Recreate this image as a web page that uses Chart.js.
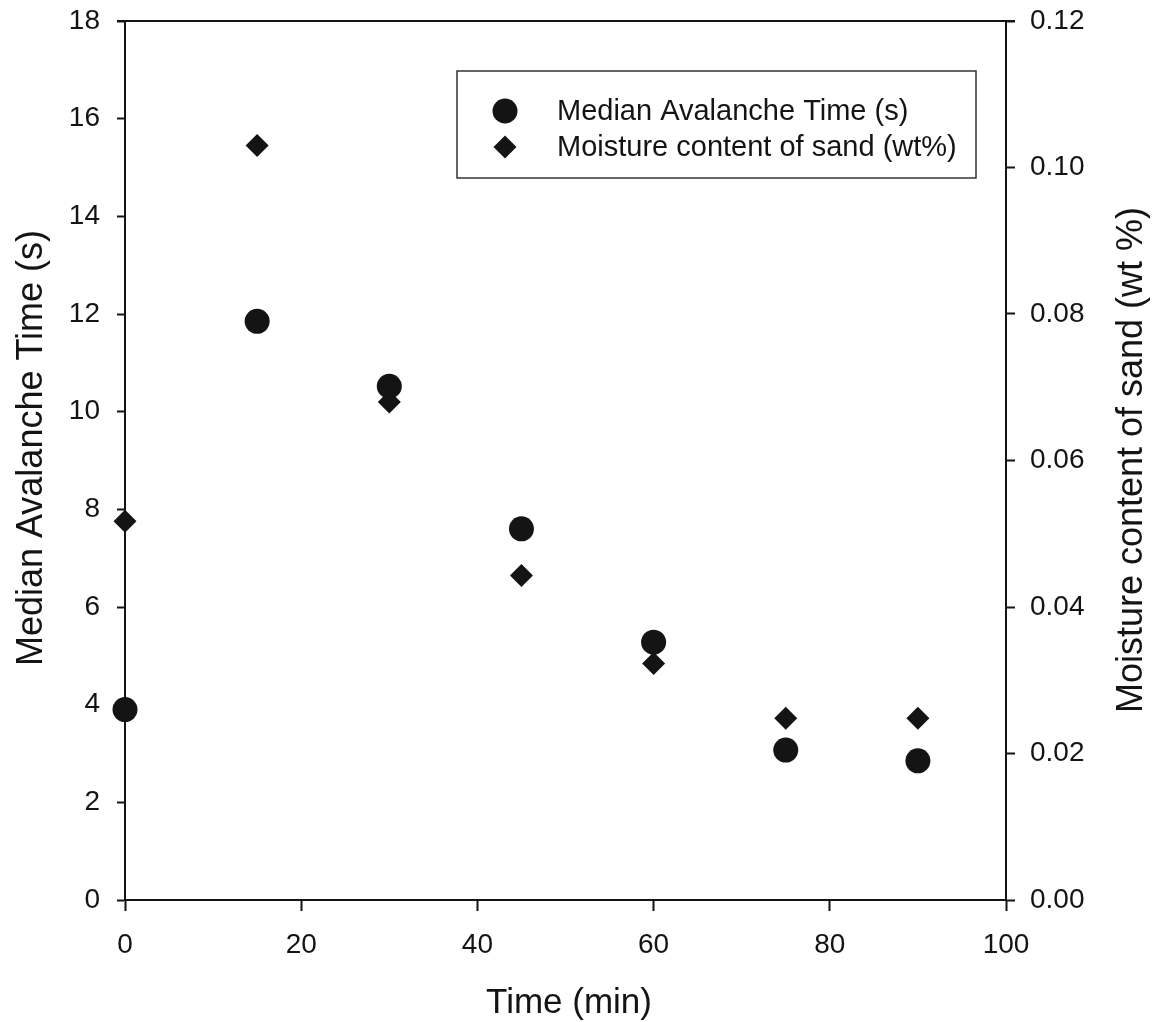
<!DOCTYPE html>
<html>
<head>
<meta charset="utf-8">
<title>Median avalanche time and moisture content</title>
<script src="https://cdn.jsdelivr.net/npm/chart.js@4.4.1/dist/chart.umd.min.js"></script>
<style>
  html, body { margin: 0; padding: 0; background: #fff; }
  #wrap { width: 1156px; height: 1022px; }
</style>
</head>
<body>
<div id="wrap"><canvas id="avalancheChart" width="1156" height="1022"></canvas></div>
<script>
// Sampling times (min)
const timeMin = [0, 15, 30, 45, 60, 75, 90];
// Median avalanche time (s), left axis
const avalancheTime = [3.9, 11.85, 10.52, 7.6, 5.28, 3.07, 2.85];
// Moisture content of sand (wt %), right axis
const moisture = [0.0517, 0.103, 0.068, 0.0443, 0.0323, 0.0248, 0.0248];

const xTicks = [0, 20, 40, 60, 80, 100];
const leftTicks = [0, 2, 4, 6, 8, 10, 12, 14, 16, 18];
const rightTicks = [0, 0.02, 0.04, 0.06, 0.08, 0.10, 0.12];

const ink = '#141414';
const fontFamily = '"Liberation Sans", Arial, sans-serif';

function toPoints(xs, ys) {
    return xs.map(function(x, i) { return { x: x, y: ys[i] }; });
}

function useTicks(values) {
    return function(scale) {
        scale.ticks = values.map(function(v) { return { value: v }; });
    };
}

// Fix a scale's thickness and drop the label overhang padding so the plot box stays put
function fixSize(prop, size) {
    return function(scale) {
        scale[prop] = size;
        scale.paddingTop = 0;
        scale.paddingBottom = 0;
        scale.paddingLeft = 0;
        scale.paddingRight = 0;
    };
}

// Axis titles are drawn by hand so they can sit off-centre like the original plot
const axisTitles = {
    id: 'axisTitles',
    afterDraw(chart) {
        const ctx = chart.ctx;
        ctx.save();
        ctx.fillStyle = ink;
        ctx.textAlign = 'center';
        ctx.textBaseline = 'alphabetic';

        ctx.font = '35px ' + fontFamily;
        ctx.fillText('Time (min)', 569, 1013);

        ctx.font = '36px ' + fontFamily;
        ctx.save();
        ctx.translate(42, 448);
        ctx.rotate(-Math.PI / 2);
        ctx.fillText('Median Avalanche Time (s)', 0, 0);
        ctx.restore();

        ctx.save();
        ctx.translate(1142, 460);
        ctx.rotate(-Math.PI / 2);
        ctx.fillText('Moisture content of sand (wt %)', 0, 0);
        ctx.restore();
        ctx.restore();
    }
};

// Top frame line, running past both axes like the outer tick marks
const topFrame = {
    id: 'topFrame',
    afterDraw(chart) {
        const a = chart.chartArea;
        const ctx = chart.ctx;
        ctx.save();
        ctx.strokeStyle = ink;
        ctx.lineWidth = 2;
        ctx.beginPath();
        ctx.moveTo(a.left - 8, a.top);
        ctx.lineTo(a.right + 9, a.top);
        ctx.stroke();
        ctx.restore();
    }
};

// Boxed legend inside the plot area
const boxLegend = {
    id: 'boxLegend',
    afterDraw(chart) {
        const ctx = chart.ctx;
        const box = { x: 457, y: 71, w: 519, h: 107 };
        ctx.save();
        ctx.strokeStyle = '#333';
        ctx.lineWidth = 1.5;
        ctx.strokeRect(box.x, box.y, box.w, box.h);
        ctx.font = '29px ' + fontFamily;
        ctx.textBaseline = 'middle';
        ctx.textAlign = 'left';
        chart.data.datasets.forEach(function(ds, i) {
            const cy = box.y + 40 + i * 36;
            ctx.fillStyle = ink;
            ctx.strokeStyle = ink;
            Chart.helpers.drawPoint(ctx, {
                pointStyle: ds.pointStyle,
                radius: ds.pointRadius,
                borderWidth: 0
            }, box.x + 48, cy);
            ctx.fillText(ds.label, box.x + 100, cy + 1);
        });
        ctx.restore();
    }
};

const ctx = document.getElementById('avalancheChart');
new Chart(ctx, {
    type: 'scatter',
    data: {
        datasets: [
            {
                label: 'Median Avalanche Time (s)',
                data: toPoints(timeMin, avalancheTime),
                yAxisID: 'y',
                pointStyle: 'circle',
                pointRadius: 12.5,
                backgroundColor: ink,
                borderColor: ink,
                borderWidth: 0,
                clip: false
            },
            {
                label: 'Moisture content of sand (wt%)',
                data: toPoints(timeMin, moisture),
                yAxisID: 'y1',
                pointStyle: 'rectRot',
                pointRadius: 11.5,
                backgroundColor: ink,
                borderColor: ink,
                borderWidth: 0,
                clip: false
            }
        ]
    },
    options: {
        responsive: false,
        animation: false,
        events: [],
        layout: { padding: { top: 21, left: 0, right: 0, bottom: 0 } },
        plugins: {
            legend: { display: false },
            tooltip: { enabled: false }
        },
        scales: {
            x: {
                type: 'linear',
                min: 0,
                max: 100,
                afterBuildTicks: useTicks(xTicks),
                afterFit: fixSize('height', 122),
                border: { display: true, color: ink, width: 2 },
                grid: { display: true, drawOnChartArea: false, drawTicks: true, tickLength: 11, tickColor: ink, tickWidth: 2 },
                ticks: { color: ink, padding: 17, font: { family: fontFamily, size: 28 }, maxRotation: 0 }
            },
            y: {
                position: 'left',
                min: 0,
                max: 18,
                afterBuildTicks: useTicks(leftTicks),
                afterFit: fixSize('width', 125),
                border: { display: true, color: ink, width: 2 },
                grid: { display: true, drawOnChartArea: false, drawTicks: true, tickLength: 8, tickColor: ink, tickWidth: 2 },
                ticks: { color: ink, padding: 17, font: { family: fontFamily, size: 28 } }
            },
            y1: {
                position: 'right',
                min: 0,
                max: 0.12,
                afterBuildTicks: useTicks(rightTicks),
                afterFit: fixSize('width', 150),
                border: { display: true, color: ink, width: 2 },
                grid: { display: true, drawOnChartArea: false, drawTicks: true, tickLength: 9, tickColor: ink, tickWidth: 2 },
                ticks: {
                    color: ink,
                    padding: 15,
                    font: { family: fontFamily, size: 28 },
                    callback: function(v) { return Number(v).toFixed(2); }
                }
            }
        }
    },
    plugins: [axisTitles, topFrame, boxLegend]
});
</script>
</body>
</html>
